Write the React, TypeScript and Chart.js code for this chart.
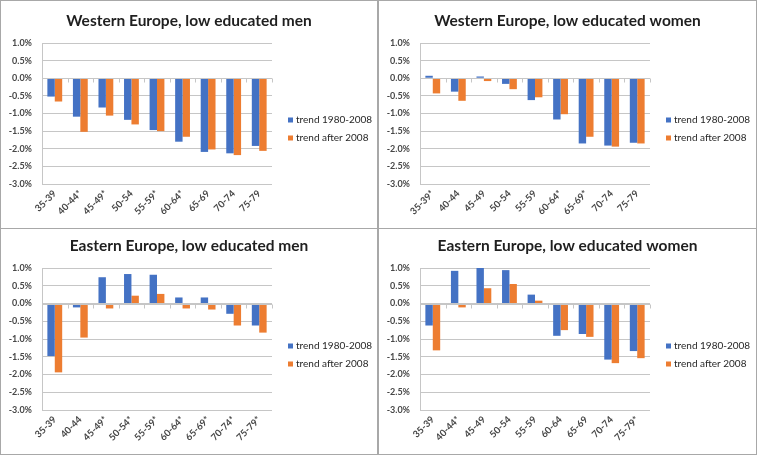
import React, { useEffect, useRef } from 'react';
import { Chart, registerables } from 'chart.js';

Chart.register(...registerables);

// ---------- data ----------
const seriesNames = ['trend 1980-2008', 'trend after 2008'];
const yTickValues = [1.0, 0.5, 0.0, -0.5, -1.0, -1.5, -2.0, -2.5, -3.0];

const titleWestMen = 'Western Europe, low educated men';
const catsWestMen = ['35-39', '40-44*', '45-49*', '50-54', '55-59*', '60-64*', '65-69', '70-74', '75-79'];
const westMenTrend = [-0.52, -1.09, -0.83, -1.18, -1.47, -1.80, -2.09, -2.13, -1.92];
const westMenAfter = [-0.66, -1.52, -1.06, -1.31, -1.50, -1.66, -2.02, -2.18, -2.06];

const titleWestWomen = 'Western Europe, low educated women';
const catsWestWomen = ['35-39*', '40-44', '45-49', '50-54', '55-59', '60-64*', '65-69*', '70-74', '75-79'];
const westWomenTrend = [0.07, -0.38, 0.05, -0.16, -0.62, -1.17, -1.85, -1.91, -1.83];
const westWomenAfter = [-0.43, -0.64, -0.08, -0.31, -0.54, -1.02, -1.66, -1.94, -1.85];

const titleEastMen = 'Eastern Europe, low educated men';
const catsEastMen = ['35-39', '40-44', '45-49*', '50-54*', '55-59*', '60-64*', '65-69*', '70-74*', '75-79*'];
const eastMenTrend = [-1.48, -0.11, 0.74, 0.83, 0.81, 0.17, 0.17, -0.29, -0.62];
const eastMenAfter = [-1.94, -0.96, -0.14, 0.22, 0.27, -0.14, -0.17, -0.62, -0.82];

const titleEastWomen = 'Eastern Europe, low educated women';
const catsEastWomen = ['35-39', '40-44*', '45-49', '50-54', '55-59', '60-64', '65-69', '70-74', '75-79*'];
const eastWomenTrend = [-0.62, 0.92, 1.0, 0.94, 0.25, -0.91, -0.86, -1.58, -1.34];
const eastWomenAfter = [-1.32, -0.11, 0.43, 0.55, 0.08, -0.75, -0.94, -1.68, -1.54];

// ---------- style ----------
const BLUE = '#4472C4';
const ORANGE = '#ED7D31';
const GRID = '#c6c6c6';
const FONT = 'Lato, "Open Sans", sans-serif';
const PANEL_BORDER = '#a8a8a8';
const PLOT_RIGHT = 271;

const zeroAxisPlugin = {
  id: 'zeroAxis',
  afterDatasetsDraw(chart: any) {
    const { ctx, chartArea, scales } = chart;
    const y0 = Math.round(scales.y.getPixelForValue(0)) + 0.5;
    const n = chart.data.labels.length;
    const w = (chartArea.right - chartArea.left) / n;
    ctx.save();
    ctx.strokeStyle = GRID;
    ctx.lineWidth = 1;
    ctx.beginPath();
    ctx.moveTo(chartArea.left, y0);
    ctx.lineTo(chartArea.right, y0);
    for (let i = 0; i <= n; i++) {
      const x = Math.round(chartArea.left + i * w) + 0.5;
      ctx.moveTo(x, y0);
      ctx.lineTo(x, y0 + 4);
    }
    ctx.stroke();
    ctx.restore();
  },
};

const sideLegendPlugin = {
  id: 'sideLegend',
  afterDraw(chart: any, _args: any, opts: any) {
    const { ctx } = chart;
    const y = opts.y ?? 119;
    ctx.save();
    ctx.font = `normal 10px ${FONT}`;
    ctx.textBaseline = 'middle';
    ctx.textAlign = 'left';
    chart.data.datasets.forEach((ds: any, i: number) => {
      const cy = y + i * 18;
      ctx.fillStyle = ds.backgroundColor;
      ctx.fillRect(287, cy - 2.5, 5, 5);
      ctx.fillStyle = '#262626';
      ctx.fillText(ds.label, 295, cy);
    });
    ctx.restore();
  },
};

type PanelProps = {
  title: string;
  labels: string[];
  a: number[];
  b: number[];
  left: number;
  top: number;
  width: number;
  height: number;
  plotBottom: number;
  titleTop: number;
  legendY: number;
};

function Panel({ title, labels, a, b, left, top, width, height, plotBottom, titleTop, legendY }: PanelProps) {
  const ref = useRef<HTMLCanvasElement | null>(null);
  const cw = width - 2;
  const chh = height - 2;
  useEffect(() => {
    if (!ref.current) return;
    const yFont = { family: FONT, size: 9, weight: 'bold' as const };
    const xFont = { family: FONT, size: 9.5, weight: 'bold' as const };
    const chart = new Chart(ref.current, {
      type: 'bar',
      data: {
        labels,
        datasets: [
          { label: seriesNames[0], data: a, backgroundColor: BLUE, categoryPercentage: 0.58, barPercentage: 1 },
          { label: seriesNames[1], data: b, backgroundColor: ORANGE, categoryPercentage: 0.58, barPercentage: 1 },
        ],
      },
      options: {
        responsive: false,
        animation: false,
        devicePixelRatio: 1,
        layout: { padding: 0 },
        plugins: {
          legend: { display: false },
          tooltip: { enabled: false },
          sideLegend: { y: legendY },
          title: {
            display: true,
            text: title,
            color: '#1f1f1f',
            font: { family: FONT, size: 15.5, weight: 'bold' },
            padding: { top: titleTop, bottom: 13 },
          },
        } as any,
        scales: {
          x: {
            grid: { display: false, drawTicks: false },
            border: { display: false },
            ticks: {
              autoSkip: false,
              minRotation: 45,
              maxRotation: 45,
              padding: 4,
              color: '#474747',
              font: xFont,
            },
            afterFit: (s: any) => {
              s.height = chh - plotBottom;
            },
          },
          y: {
            min: -3,
            max: 1,
            afterBuildTicks: (s: any) => {
              s.ticks = yTickValues.map((v) => ({ value: v }));
            },
            ticks: {
              padding: 10,
              color: '#474747',
              font: yFont,
              callback: (v: any) => Number(v).toFixed(1) + '%',
            },
            grid: { color: GRID, drawTicks: false },
            border: { display: true, color: GRID },
            afterFit: (s: any) => {
              s.width = 41;
            },
          },
          legendSpace: {
            type: 'linear',
            position: 'right',
            display: true,
            grid: { display: false, drawTicks: false },
            border: { display: false },
            ticks: { display: false },
            afterFit: (s: any) => {
              s.width = cw - PLOT_RIGHT;
            },
          },
        },
      },
      plugins: [zeroAxisPlugin, sideLegendPlugin],
    });
    return () => chart.destroy();
  }, []);
  return (
    <div
      style={{
        position: 'absolute',
        left,
        top,
        width,
        height,
        boxSizing: 'border-box',
        border: `1px solid ${PANEL_BORDER}`,
        background: '#fff',
      }}
    >
      <canvas ref={ref} width={cw} height={chh} style={{ display: 'block', width: cw, height: chh }} />
    </div>
  );
}

export default function App() {
  return (
    <div style={{ position: 'absolute', left: 0, top: 0, width: 757, height: 455, background: '#fff' }}>
      <Panel title={titleWestMen} labels={catsWestMen} a={westMenTrend} b={westMenAfter} left={0} top={0} width={378} height={229} plotBottom={183} titleTop={10.4} legendY={119} />
      <Panel title={titleWestWomen} labels={catsWestWomen} a={westWomenTrend} b={westWomenAfter} left={378} top={0} width={379} height={229} plotBottom={183} titleTop={10.4} legendY={119} />
      <Panel title={titleEastMen} labels={catsEastMen} a={eastMenTrend} b={eastMenAfter} left={0} top={228} width={378} height={227} plotBottom={181} titleTop={7.4} legendY={117} />
      <Panel title={titleEastWomen} labels={catsEastWomen} a={eastWomenTrend} b={eastWomenAfter} left={378} top={228} width={379} height={227} plotBottom={181} titleTop={7.4} legendY={117} />
    </div>
  );
}
